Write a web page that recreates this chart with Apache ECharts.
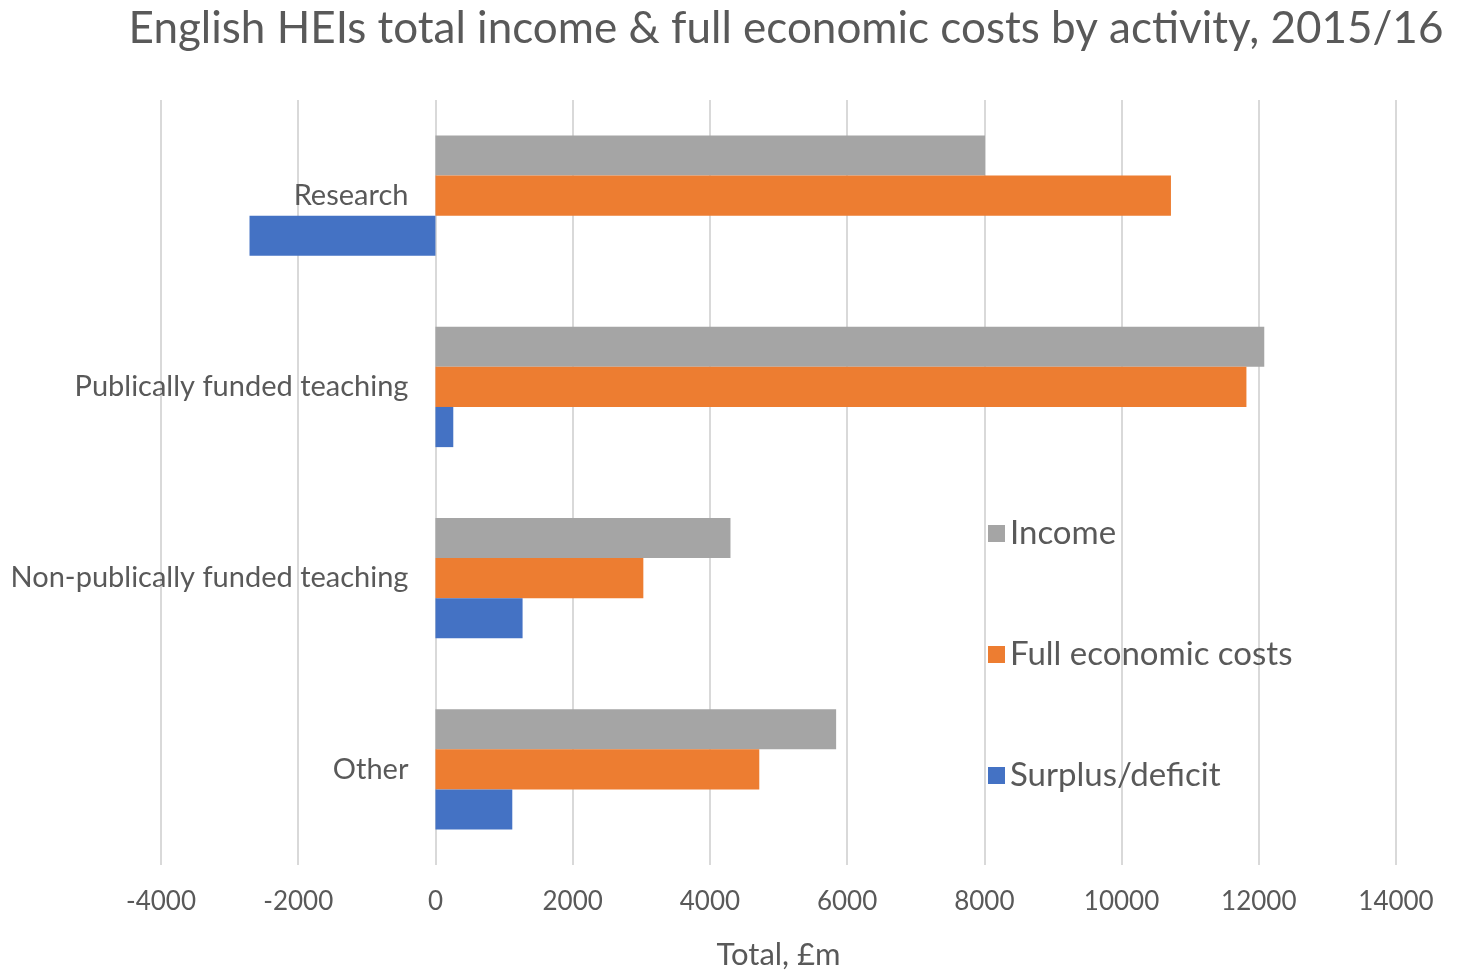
<!DOCTYPE html>
<html>
<head>
<meta charset="utf-8">
<title>English HEIs total income & full economic costs by activity, 2015/16</title>
<script src="https://cdn.jsdelivr.net/npm/echarts@6/dist/echarts.min.js"></script>
<style>
  html, body { margin: 0; padding: 0; background: #ffffff; }
  #chart { width: 1470px; height: 972px; }
</style>
</head>
<body>
<div id="chart"></div>
<script>
// Activities, top to bottom
const categories = ['Research', 'Publically funded teaching', 'Non-publically funded teaching', 'Other'];

// £m per activity
const income = [8010, 12080, 4300, 5840];
const fullEconomicCosts = [10720, 11820, 3030, 4720];
const surplusDeficit = [-2710, 260, 1270, 1120];

const xTicks = [-4000, -2000, 0, 2000, 4000, 6000, 8000, 10000, 12000, 14000];

const textGrey = '#595959';
const fontFamily = 'Lato, "Open Sans", sans-serif';
const gridLeft = 161;

const chart = echarts.init(document.getElementById('chart'), null, { renderer: 'canvas' });

const barStyle = (color) => ({ color: color });

chart.setOption({
  backgroundColor: '#ffffff',
  animation: false,
  textStyle: { fontFamily: fontFamily },
  title: {
    text: 'English HEIs total income & full economic costs by activity, 2015/16',
    left: 781,
    textAlign: 'center',
    top: 2,
    textStyle: { color: textGrey, fontSize: 44, fontWeight: 'normal', fontFamily: fontFamily }
  },
  legend: {
    orient: 'vertical',
    left: 983,
    top: 512,
    icon: 'rect',
    itemWidth: 17,
    itemHeight: 17,
    itemGap: 88,
    textStyle: { color: textGrey, fontSize: 33, lineHeight: 33, fontFamily: fontFamily },
    data: ['Income', 'Full economic costs', 'Surplus/deficit']
  },
  grid: { left: gridLeft, right: 74, top: 100, bottom: 107, containLabel: false, outerBoundsMode: 'none' },
  xAxis: {
    type: 'value',
    min: xTicks[0],
    max: xTicks[xTicks.length - 1],
    interval: 2000,
    name: 'Total, £m',
    nameLocation: 'middle',
    nameGap: 74,
    nameTextStyle: { color: textGrey, fontSize: 31, fontFamily: fontFamily },
    axisLine: { show: false },
    axisTick: { show: false },
    axisLabel: {
      color: textGrey, fontSize: 26, margin: 24, fontFamily: fontFamily,
      formatter: (v) => String(v)
    },
    splitLine: { show: true, lineStyle: { color: '#d9d9d9', width: 2 } }
  },
  yAxis: {
    type: 'category',
    data: categories,
    inverse: true,
    axisLine: { show: false },
    axisTick: { show: false },
    axisLabel: { color: textGrey, fontSize: 29, margin: 27, fontFamily: fontFamily },
    splitLine: { show: false }
  },
  series: [
    {
      name: 'Income', type: 'bar', data: income,
      barGap: '0%', barCategoryGap: '37%',
      itemStyle: barStyle('#a5a5a5')
    },
    {
      name: 'Full economic costs', type: 'bar', data: fullEconomicCosts,
      barGap: '0%', barCategoryGap: '37%',
      itemStyle: barStyle('#ed7d31')
    },
    {
      name: 'Surplus/deficit', type: 'bar', data: surplusDeficit,
      barGap: '0%', barCategoryGap: '37%',
      itemStyle: barStyle('#4472c4')
    }
  ]
});

// Put the category labels against the zero line of the value axis
const zeroX = chart.convertToPixel({ xAxisIndex: 0 }, 0);
chart.setOption({ yAxis: { offset: -(zeroX - gridLeft) } });
</script>
</body>
</html>
